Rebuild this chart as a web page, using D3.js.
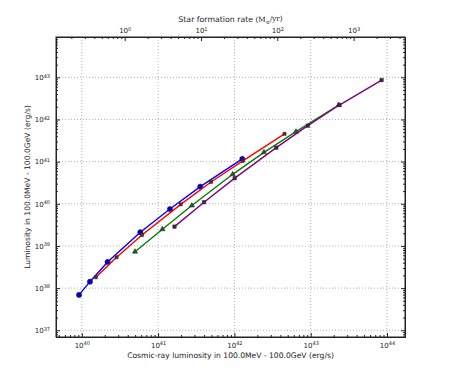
<!DOCTYPE html>
<meta charset="utf-8">
<style>
body { margin: 0; background: #fff; }
.axis path, .axis line { stroke: #222; }
.axis text { fill: #222; font-family: 'DejaVu Sans'; }
.grid line { stroke: #b0b0b0; stroke-dasharray: 1,2; }
</style>
<body>
<div id="plot"></div>
<script src="https://d3js.org/d3.v7.min.js"></script>
<script>

// cosmic-ray luminosity (x) and gamma luminosity (y), erg/s
var blueX = [9.2e39, 1.28e40, 2.18e40, 5.85e40, 1.43e41, 3.57e41, 1.27e42];
var blueY = [6.9e37, 1.42e38, 4.17e38, 2.11e39, 7.5e39, 2.55e40, 1.16e41];
var redX = [1.53e40, 2.86e40, 6.15e40, 1.98e41, 4.93e41, 1.29e42, 4.54e42];
var redY = [1.81e38, 5.4e38, 1.82e39, 9.7e39, 3.29e40, 1.04e41, 4.57e41];
var greenX = [4.98e40, 1.14e41, 2.77e41, 9.5e41, 2.44e42, 6.41e42, 2.33e43];
var greenY = [7.3e38, 2.49e39, 9.1e39, 5.0e40, 1.66e41, 5.13e41, 2.2e42];
var purpleX = [1.64e41, 4.0e41, 1.01e42, 3.54e42, 9.16e42, 2.38e43, 8.5e43];
var purpleY = [2.87e39, 1.09e40, 4.05e40, 2.14e41, 7.12e41, 2.2e42, 8.6e42];

// exponents of major ticks
var xTickExp = [40, 41, 42, 43, 44];
var yTickExp = [37, 38, 39, 40, 41, 42, 43];
var sfrTickExp = [0, 1, 2, 3];
var sfrPerLcr = 3.65e40;   // L_CR per (M_sun/yr)

var margin = {top: 37, right: 45, bottom: 38, left: 56},
    width = 450 - margin.left - margin.right,
    height = 375 - margin.top - margin.bottom;

var x = d3.scaleLog().domain([Math.pow(10, 39.662), Math.pow(10, 44.236)]).range([0, width]);
var y = d3.scaleLog().domain([Math.pow(10, 36.84), Math.pow(10, 43.956)]).range([height, 0]);
var xTop = d3.scaleLog()
    .domain([x.domain()[0] / sfrPerLcr, x.domain()[1] / sfrPerLcr])
    .range([0, width]);

var svg = d3.select("#plot").append("svg")
    .attr("width", 450)
    .attr("height", 375)
  .append("g")
    .attr("transform", "translate(" + margin.left + "," + margin.top + ")");

function minors(scale) {
  var d = scale.domain(), out = [];
  var lo = Math.floor(Math.log10(d[0])), hi = Math.ceil(Math.log10(d[1]));
  for (var e = lo; e <= hi; e++) {
    for (var k = 2; k <= 9; k++) {
      var v = k * Math.pow(10, e);
      if (v >= d[0] && v <= d[1]) out.push(v);
    }
  }
  return out;
}
function pows(arr) { return arr.map(function(e) { return Math.pow(10, e); }); }

// grid
svg.append("g").attr("class", "grid")
  .selectAll("line").data(pows(xTickExp)).enter().append("line")
  .attr("x1", function(d) { return x(d); }).attr("x2", function(d) { return x(d); })
  .attr("y1", 0).attr("y2", height);
svg.append("g").attr("class", "grid")
  .selectAll("line").data(pows(yTickExp)).enter().append("line")
  .attr("y1", function(d) { return y(d); }).attr("y2", function(d) { return y(d); })
  .attr("x1", 0).attr("x2", width);

// power-of-ten labels
function powLabel(sel, exps) {
  sel.selectAll("text").each(function(d, i) {
    var t = d3.select(this).text("");
    t.append("tspan").text("10");
    t.append("tspan").attr("dy", "-0.5em").style("font-size", "5px").text(exps[i]);
  });
}

// bottom axis
var gx = svg.append("g").attr("class", "axis")
    .attr("transform", "translate(0," + height + ")")
    .call(d3.axisBottom(x).tickValues(pows(xTickExp)).tickSizeInner(-4).tickSizeOuter(0).tickPadding(6));
gx.selectAll("text").style("font-size", "7px");
powLabel(gx, xTickExp);
svg.append("g").attr("class", "axis")
    .attr("transform", "translate(0," + height + ")")
    .call(d3.axisBottom(x).tickValues(minors(x)).tickFormat("").tickSizeInner(-2).tickSizeOuter(0));

// top axis (star formation rate)
var gt = svg.append("g").attr("class", "axis")
    .call(d3.axisTop(xTop).tickValues(pows(sfrTickExp)).tickSizeInner(-4).tickSizeOuter(0).tickPadding(4));
gt.selectAll("text").style("font-size", "7px");
powLabel(gt, sfrTickExp);
svg.append("g").attr("class", "axis")
    .call(d3.axisTop(xTop).tickValues(minors(xTop)).tickFormat("").tickSizeInner(-2).tickSizeOuter(0));

// left axis
var gy = svg.append("g").attr("class", "axis")
    .call(d3.axisLeft(y).tickValues(pows(yTickExp)).tickSizeInner(-4).tickSizeOuter(0).tickPadding(6));
gy.selectAll("text").style("font-size", "7px");
powLabel(gy, yTickExp);
svg.append("g").attr("class", "axis")
    .call(d3.axisLeft(y).tickValues(minors(y)).tickFormat("").tickSizeInner(-2).tickSizeOuter(0));

// right axis (mirror)
svg.append("g").attr("class", "axis")
    .attr("transform", "translate(" + width + ",0)")
    .call(d3.axisRight(y).tickValues(pows(yTickExp)).tickFormat("").tickSizeInner(-4).tickSizeOuter(0));
svg.append("g").attr("class", "axis")
    .attr("transform", "translate(" + width + ",0)")
    .call(d3.axisRight(y).tickValues(minors(y)).tickFormat("").tickSizeInner(-2).tickSizeOuter(0));

// frame
svg.append("rect")
    .attr("width", width).attr("height", height)
    .style("fill", "none").style("stroke", "#222").style("stroke-width", 1);

// series
var series = [
  {xs: blueX, ys: blueY, line: "#0000ff", fill: "#0000cc", sym: d3.symbolCircle, size: 22},
  {xs: redX, ys: redY, line: "#ff0000", fill: "#7a1f1f", sym: d3.symbolSquare, size: 10},
  {xs: greenX, ys: greenY, line: "#008000", fill: "#1f5a1f", sym: d3.symbolTriangle, size: 12},
  {xs: purpleX, ys: purpleY, line: "#800080", fill: "#4f1a5a", sym: d3.symbolSquare, size: 12}
];

var valueline = d3.line()
    .x(function(d) { return x(d[0]); })
    .y(function(d) { return y(d[1]); });

series.forEach(function(s) {
  var pts = s.xs.map(function(v, i) { return [v, s.ys[i]]; });
  svg.append("path")
    .datum(pts)
    .attr("d", valueline)
    .style("fill", "none")
    .style("stroke", s.line)
    .style("stroke-width", 1.4);
  svg.selectAll(null)
    .data(pts)
    .enter().append("path")
    .attr("d", d3.symbol().type(s.sym).size(s.size))
    .attr("transform", function(d) { return "translate(" + x(d[0]) + "," + y(d[1]) + ")"; })
    .style("fill", s.fill)
    .style("stroke", "#222")
    .style("stroke-width", 0.5);
});

// labels
svg.append("text")
    .attr("x", width / 2)
    .attr("y", height + 21)
    .attr("text-anchor", "middle")
    .style("font-family", "DejaVu Sans")
    .style("font-size", "7.6px")
    .style("fill", "#222")
    .text("Cosmic-ray luminosity in 100.0MeV - 100.0GeV (erg/s)");

svg.append("text")
    .attr("transform", "rotate(-90)")
    .attr("x", -height / 2)
    .attr("y", -26)
    .attr("text-anchor", "middle")
    .style("font-family", "DejaVu Sans")
    .style("font-size", "7.6px")
    .style("fill", "#222")
    .text("Luminosity in 100.0MeV - 100.0GeV (erg/s)");

var title = svg.append("text")
    .attr("x", width / 2)
    .attr("y", -15)
    .attr("text-anchor", "middle")
    .style("font-family", "DejaVu Sans")
    .style("font-size", "7.8px")
    .style("fill", "#222");
title.append("tspan").text("Star formation rate ");
title.append("tspan").style("font-family", "DejaVu Serif").style("font-size", "7.2px").text("(M");
title.append("tspan").style("font-family", "DejaVu Serif").style("font-size", "5px").attr("dy", "0.3em").text("\u2299");
title.append("tspan").style("font-family", "DejaVu Serif").style("font-size", "7.2px").attr("dy", "-0.3em").text("/yr)");

</script>
</body>
